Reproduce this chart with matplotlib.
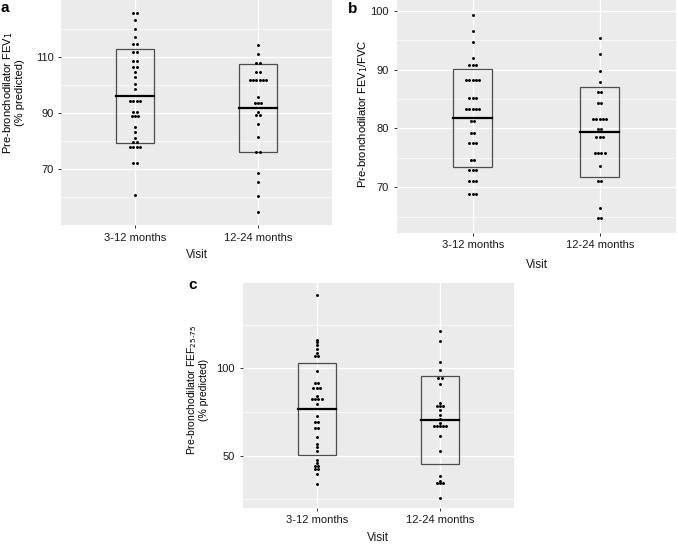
import numpy as np
import matplotlib
matplotlib.use('Agg')
import matplotlib.pyplot as plt

plt.rcParams['font.family'] = ['Liberation Sans', 'DejaVu Sans']

W, H = 678, 546

cats = ['3-12 months', '12-24 months']

# panel a: FEV1 % predicted (bin value, dots in bin)
a_312_y = [125.5, 123.1, 119.8, 116.9, 114.5, 111.8, 108.5, 106.4, 104.5, 102.6, 100.1,
           98.5, 94.2, 90.1, 88.8, 85.0, 83.1, 81.1, 79.5, 77.7, 72.0, 60.6]
a_312_n = [2, 1, 1, 1, 2, 2, 2, 2, 1, 1, 1, 1, 4, 2, 3, 1, 1, 1, 2, 4, 2, 1]
a_1224_y = [114.3, 110.8, 107.6, 104.4, 101.7, 95.6, 93.6, 90.4, 89.2, 86.1, 81.4,
            76.0, 68.3, 65.1, 60.3, 54.4]
a_1224_n = [1, 1, 2, 2, 6, 1, 3, 1, 2, 1, 1, 2, 1, 1, 1, 1]
a_low = [79.0, 76.0]
a_mid = [96.0, 91.5]
a_high = [112.6, 107.3]

# panel b: FEV1/FVC
b_312_y = [99.2, 96.6, 94.6, 92.0, 90.8, 88.2, 85.1, 83.3, 81.2, 79.2, 77.5, 74.6,
           72.9, 71.1, 68.9]
b_312_n = [1, 1, 1, 1, 3, 5, 3, 5, 2, 2, 3, 2, 3, 3, 3]
b_1224_y = [95.3, 92.6, 89.8, 87.9, 86.1, 84.4, 81.6, 79.9, 78.5, 75.9, 73.7, 71.0,
            66.5, 64.8]
b_1224_n = [1, 1, 1, 1, 2, 2, 5, 2, 3, 4, 1, 2, 1, 2]
b_low = [73.5, 71.8]
b_mid = [81.8, 79.4]
b_high = [90.1, 87.1]

# panel c: FEF25-75 % predicted
c_312_y = [142.1, 116.2, 114.8, 113.1, 111.2, 109.0, 107.1, 98.7, 91.7, 88.8, 84.4,
           82.3, 79.6, 72.9, 69.2, 66.0, 60.8, 56.9, 55.2, 52.9, 47.7, 45.6, 44.2,
           42.3, 39.4, 33.5]
c_312_n = [1, 1, 1, 1, 1, 1, 2, 1, 2, 3, 1, 4, 1, 1, 2, 2, 1, 1, 1, 1, 1, 1, 2, 2, 1, 1]
c_1224_y = [121.5, 115.6, 103.5, 99.2, 94.6, 91.2, 80.2, 78.3, 76.0, 73.5, 71.2, 68.8,
            66.7, 61.3, 52.7, 38.1, 35.6, 34.2, 26.0]
c_1224_n = [1, 1, 1, 1, 2, 1, 1, 3, 1, 1, 1, 1, 5, 1, 1, 1, 1, 3, 1]
c_low = [50.6, 45.4]
c_mid = [76.7, 70.4]
c_high = [102.9, 95.6]


def px_axes(fig, left, top, right, bottom):
    return fig.add_axes([left / W, 1 - bottom / H, (right - left) / W, (bottom - top) / H])


def draw_panel(ax, groups, low, mid, high, ylim, major, minor):
    ax.set_facecolor('#EBEBEB')
    for s in ax.spines.values():
        s.set_visible(False)
    ax.set_xlim(0.4, 2.6)
    ax.set_ylim(*ylim)
    ax.set_yticks(major)
    ax.set_yticks(minor, minor=True)
    ax.set_xticks([1, 2])
    ax.set_xticklabels(cats)
    ax.grid(True, which='major', color='white', lw=1.0)
    ax.grid(True, which='minor', axis='y', color='white', lw=0.5)
    ax.set_axisbelow(True)
    ax.tick_params(which='major', length=2.5, width=0.7, color='#333333',
                   labelsize=8, labelcolor='#1a1a1a', pad=3)
    ax.tick_params(which='minor', length=0)

    step = 0.026
    for i, (ys, ns) in enumerate(groups):
        xs, yy = [], []
        for y, n in zip(ys, ns):
            for k in range(n):
                xs.append(i + 1 + (k - (n - 1) / 2) * step)
                yy.append(y)
        ax.scatter(xs, yy, s=4.5, color='black', lw=0, zorder=3)

    hw = 0.155
    for i in range(2):
        x = i + 1
        ax.add_patch(plt.Rectangle((x - hw, low[i]), 2 * hw, high[i] - low[i],
                                   fill=False, ec='#4d4d4d', lw=0.9, zorder=2))
        ax.plot([x - hw, x + hw], [mid[i], mid[i]], color='black', lw=1.6, zorder=4)


fig = plt.figure(figsize=(W / 100, H / 100), dpi=100)
fig.patch.set_facecolor('white')

ax_a = px_axes(fig, 61, 0, 332, 225)
draw_panel(ax_a, [(a_312_y, a_312_n), (a_1224_y, a_1224_n)], a_low, a_mid, a_high,
           (49.9, 130.2), [70, 90, 110], [60, 80, 100, 120])

ax_b = px_axes(fig, 396.5, 0, 676, 232.7)
draw_panel(ax_b, [(b_312_y, b_312_n), (b_1224_y, b_1224_n)], b_low, b_mid, b_high,
           (62.3, 101.8), [70, 80, 90, 100], [65, 75, 85, 95])

ax_c = px_axes(fig, 242.7, 283.3, 514, 507.7)
draw_panel(ax_c, [(c_312_y, c_312_n), (c_1224_y, c_1224_n)], c_low, c_mid, c_high,
           (20.2, 148.7), [50, 100], [25, 75, 125])


def ftext(x, y, s, **kw):
    fig.text(x / W, 1 - y / H, s, **kw)


ftext(13, 93, 'Pre-bronchodilator FEV$_1$\n(% predicted)', rotation=90,
      ha='center', va='center', multialignment='center', fontsize=8, linespacing=1.05)
ftext(363, 114, 'Pre-bronchodilator FEV$_1$/FVC', rotation=90,
      ha='center', va='center', fontsize=8)
ftext(197, 390, 'Pre-bronchodilator FEF$_{25\u201075}$\n(% predicted)', rotation=90,
      ha='center', va='center', multialignment='center', fontsize=7.5, linespacing=1.05)

ftext(197, 255, 'Visit', ha='center', va='center', fontsize=8.5, color='#1a1a1a')
ftext(537, 265, 'Visit', ha='center', va='center', fontsize=8.5, color='#1a1a1a')
ftext(378, 538, 'Visit', ha='center', va='center', fontsize=8.5, color='#1a1a1a')

ftext(5, 8, 'a', ha='center', va='center', fontsize=11, fontweight='bold')
ftext(353, 9, 'b', ha='center', va='center', fontsize=11, fontweight='bold')
ftext(193, 285, 'c', ha='center', va='center', fontsize=11, fontweight='bold')

fig.savefig('out.png', dpi=100, facecolor='white')
